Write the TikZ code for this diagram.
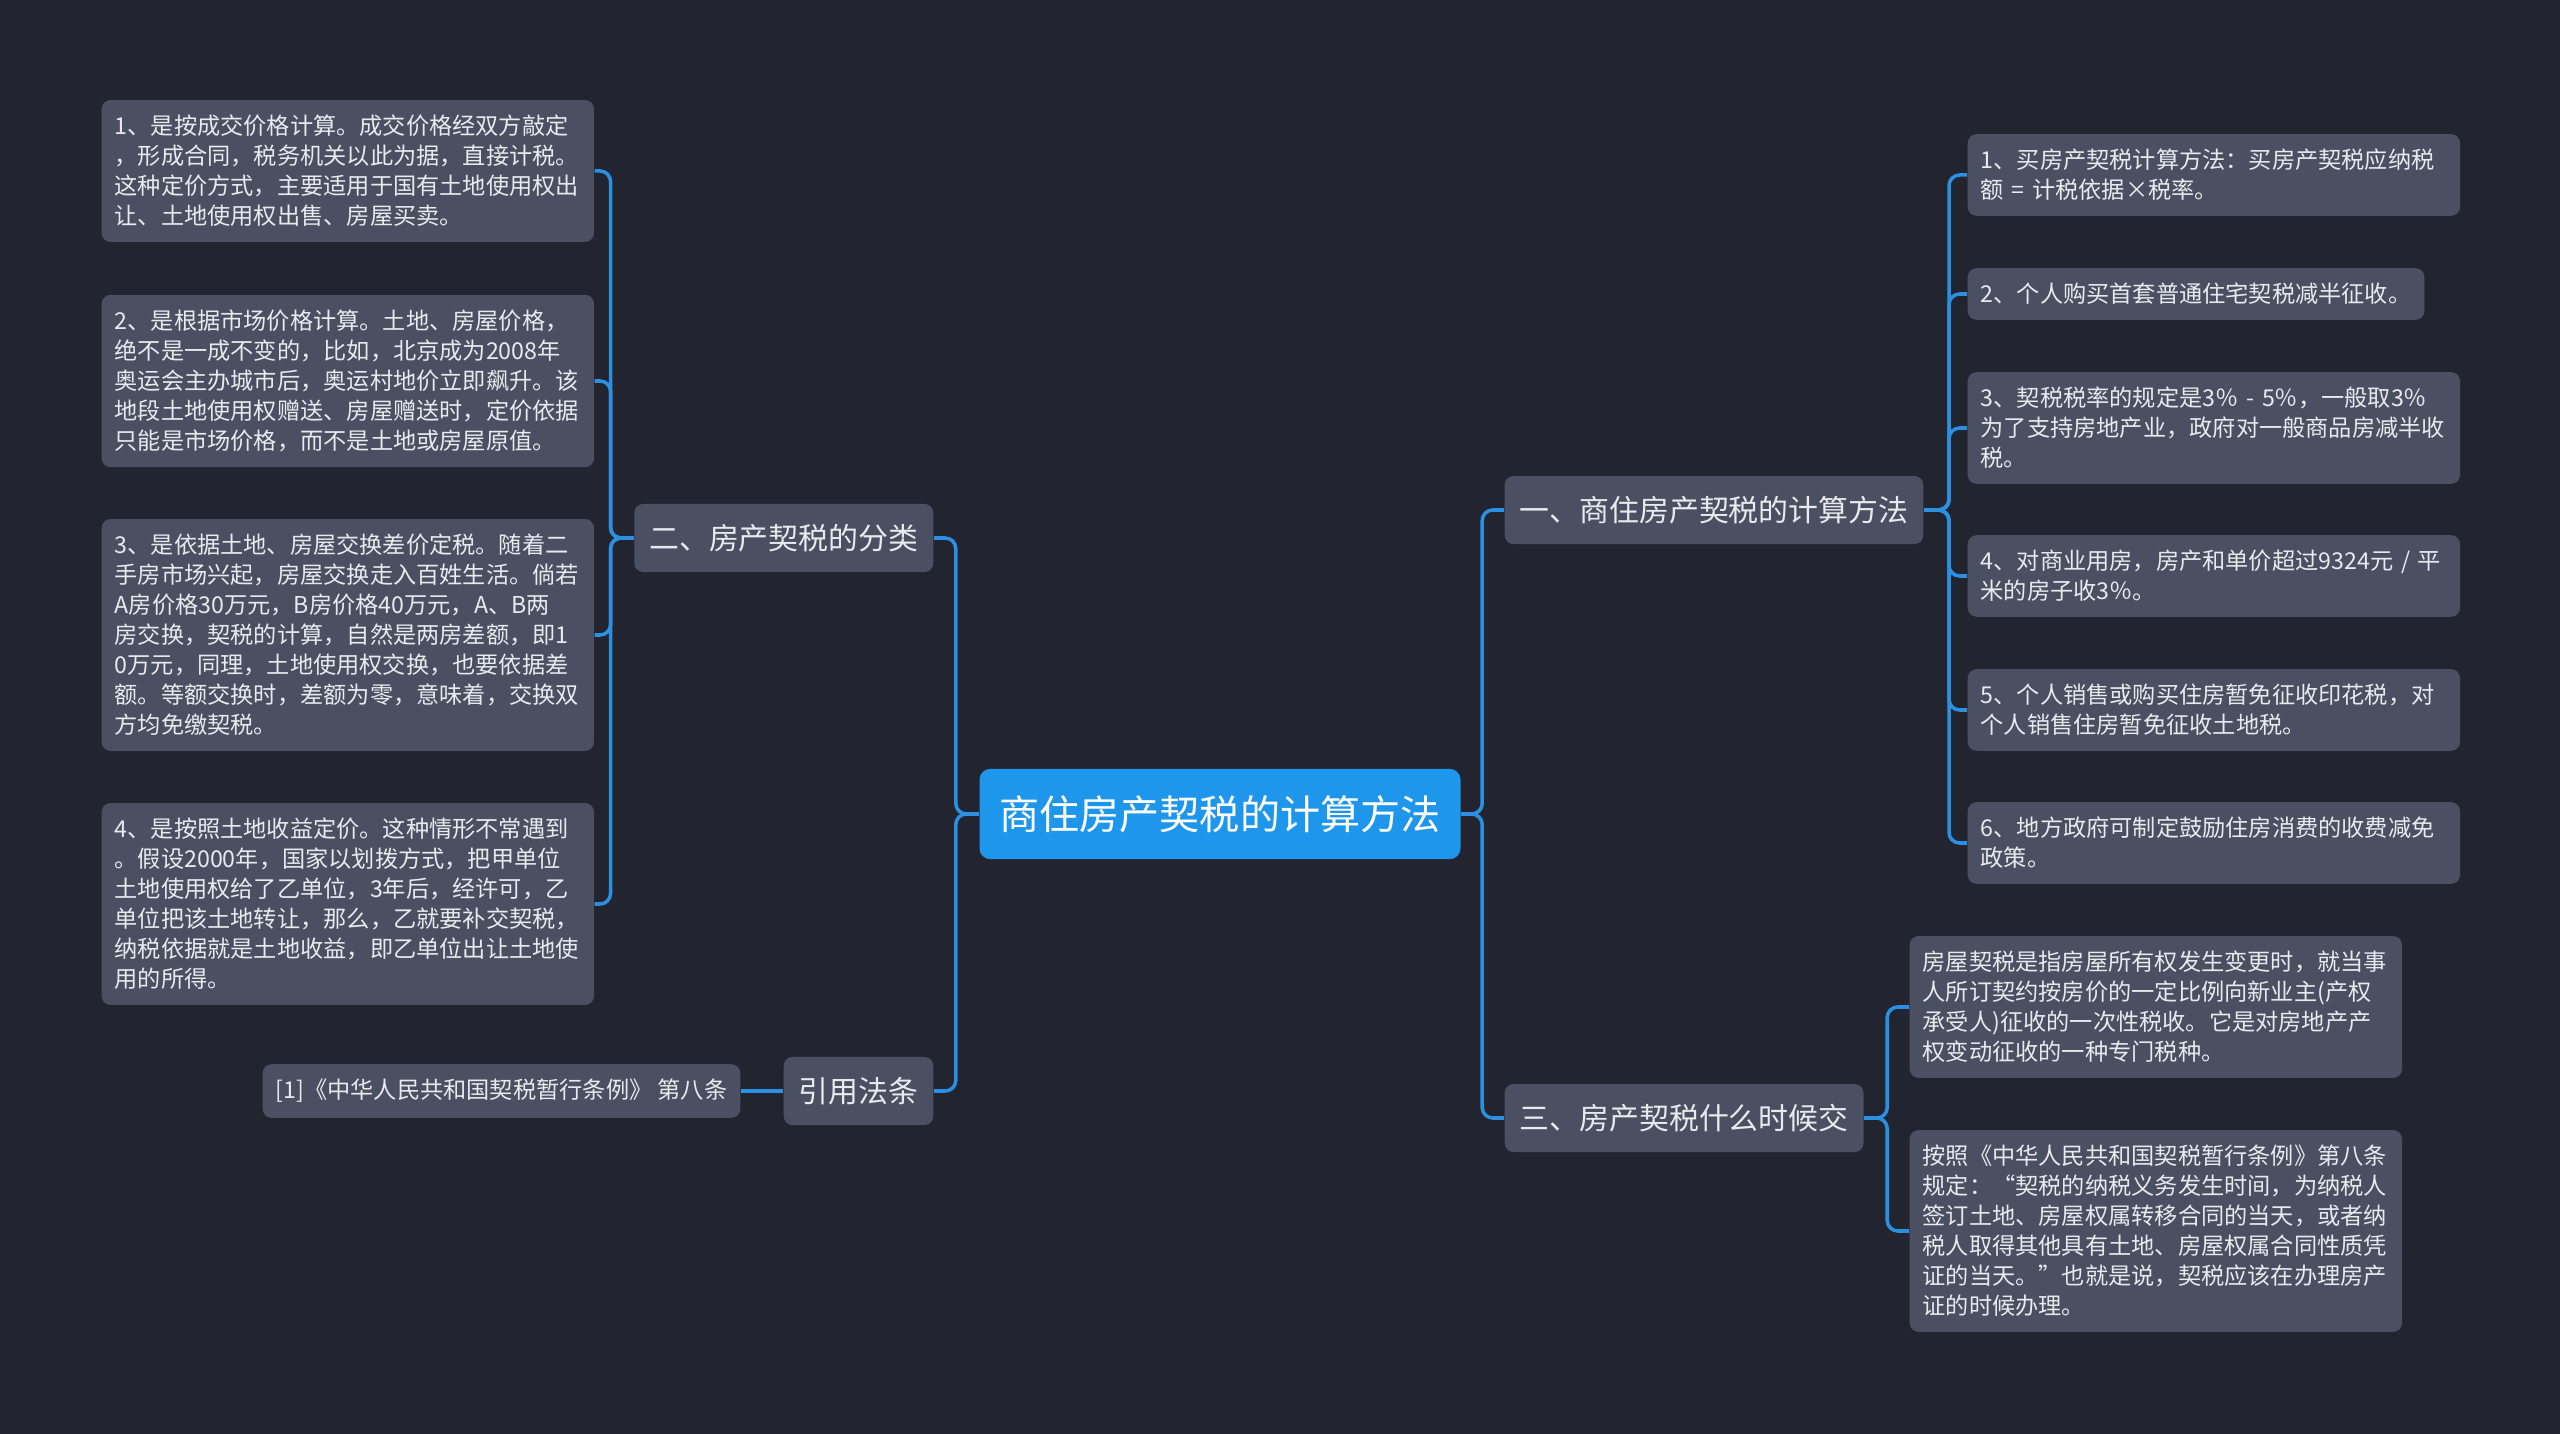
\documentclass[tikz,border=0pt]{standalone}
\usepackage{fontspec}
\setmainfont{Noto Sans CJK SC}
\definecolor{bgdark}{HTML}{22252F}
\definecolor{nodegray}{HTML}{4A5061}
\definecolor{rootblue}{HTML}{1E96EB}
\definecolor{linkblue}{HTML}{2B90E2}
\definecolor{textlight}{HTML}{E8EAEE}
\begin{document}
\begin{tikzpicture}[x=0.01cm, y=-0.01cm,
  rootnode/.style={fill=rootblue, rounded corners=3pt, text=white, inner xsep=0.2cm, minimum height=0.9cm, font=\fontsize{11.4pt}{14pt}\selectfont},
  topic/.style={fill=nodegray, rounded corners=2.5pt, text=textlight, inner xsep=0.15cm, minimum height=0.68cm, font=\fontsize{8.5pt}{10pt}\selectfont},
  leafline/.style={fill=nodegray, rounded corners=2.5pt, text=textlight, align=left, inner xsep=0.13cm, inner ysep=0.15cm, font=\fontsize{6.6pt}{8.54pt}\selectfont},
  leaf/.style={leafline, text width=4.66cm},
  link/.style={draw=linkblue, line width=1pt, rounded corners=3pt}]
\fill[bgdark] (0,0) rectangle (2560,1434);
\useasboundingbox (0,0) rectangle (2560,1434);

\node[rootnode] (root) at (1220,814) {商住房产契税的计算方法};

% right side
\node[topic, anchor=west] (calc) at (1504,510) {一、商住房产契税的计算方法};
\node[topic, anchor=west] (when) at (1504,1118) {三、房产契税什么时候交};

\node[leaf, anchor=west] (calc1) at (1967,175) {1、买房产契税计算方法：买房产契税应纳税\\额 = 计税依据×税率。};
\node[leafline, anchor=west] (calc2) at (1967,294) {2、个人购买首套普通住宅契税减半征收。};
\node[leaf, anchor=west] (calc3) at (1967,428) {3、契税税率的规定是3％ - 5％，一般取3％\\为了支持房地产业，政府对一般商品房减半收\\税。};
\node[leaf, anchor=west] (calc4) at (1967,576) {4、对商业用房，房产和单价超过9324元 / 平\\米的房子收3％。};
\node[leaf, anchor=west] (calc5) at (1967,710) {5、个人销售或购买住房暂免征收印花税，对\\个人销售住房暂免征收土地税。};
\node[leaf, anchor=west] (calc6) at (1967,843) {6、地方政府可制定鼓励住房消费的收费减免\\政策。};

\node[leaf, anchor=west] (when1) at (1909,1007) {房屋契税是指房屋所有权发生变更时，就当事\\人所订契约按房价的一定比例向新业主(产权\\承受人)征收的一次性税收。它是对房地产产\\权变动征收的一种专门税种。};
\node[leaf, anchor=west] (when2) at (1909,1231) {按照《中华人民共和国契税暂行条例》第八条\\规定：“契税的纳税义务发生时间，为纳税人\\签订土地、房屋权属转移合同的当天，或者纳\\税人取得其他具有土地、房屋权属合同性质凭\\证的当天。”也就是说，契税应该在办理房产\\证的时候办理。};

% left side
\node[topic, anchor=east] (kind) at (934,538) {二、房产契税的分类};
\node[topic, anchor=east] (law) at (934,1091) {引用法条};

\node[leaf, anchor=west] (kind1) at (101,171) {1、是按成交价格计算。成交价格经双方敲定\\，形成合同，税务机关以此为据，直接计税。\\这种定价方式，主要适用于国有土地使用权出\\让、土地使用权出售、房屋买卖。};
\node[leaf, anchor=west] (kind2) at (101,381) {2、是根据市场价格计算。土地、房屋价格，\\绝不是一成不变的，比如，北京成为2008年\\奥运会主办城市后，奥运村地价立即飙升。该\\地段土地使用权赠送、房屋赠送时，定价依据\\只能是市场价格，而不是土地或房屋原值。};
\node[leaf, anchor=west] (kind3) at (101,635) {3、是依据土地、房屋交换差价定税。随着二\\手房市场兴起，房屋交换走入百姓生活。倘若\\A房价格30万元，B房价格40万元，A、B两\\房交换，契税的计算，自然是两房差额，即1\\0万元，同理，土地使用权交换，也要依据差\\额。等额交换时，差额为零，意味着，交换双\\方均免缴契税。};
\node[leaf, anchor=west] (kind4) at (101,904) {4、是按照土地收益定价。这种情形不常遇到\\。假设2000年，国家以划拨方式，把甲单位\\土地使用权给了乙单位，3年后，经许可，乙\\单位把该土地转让，那么，乙就要补交契税，\\纳税依据就是土地收益，即乙单位出让土地使\\用的所得。};
\node[leafline, anchor=east] (law1) at (741,1091) {[1]《中华人民共和国契税暂行条例》 第八条};

% connectors
\draw[link] (root.east) -- ++(21,0) |- (calc.west);
\draw[link] (root.east) -- ++(21,0) |- (when.west);
\draw[link] (root.west) -- ++(-23,0) |- (kind.east);
\draw[link] (root.west) -- ++(-23,0) |- (law.east);

\draw[link] (calc.east) -- ++(25,0) |- (calc1.west);
\draw[link] (calc.east) -- ++(25,0) |- (calc2.west);
\draw[link] (calc.east) -- ++(25,0) |- (calc3.west);
\draw[link] (calc.east) -- ++(25,0) |- (calc4.west);
\draw[link] (calc.east) -- ++(25,0) |- (calc5.west);
\draw[link] (calc.east) -- ++(25,0) |- (calc6.west);

\draw[link] (when.east) -- ++(23,0) |- (when1.west);
\draw[link] (when.east) -- ++(23,0) |- (when2.west);

\draw[link] (kind.west) -- ++(-23,0) |- (kind1.east);
\draw[link] (kind.west) -- ++(-23,0) |- (kind2.east);
\draw[link] (kind.west) -- ++(-23,0) |- (kind3.east);
\draw[link] (kind.west) -- ++(-23,0) |- (kind4.east);

\draw[link] (law.west) -- (law1.east);
\end{tikzpicture}
\end{document}
